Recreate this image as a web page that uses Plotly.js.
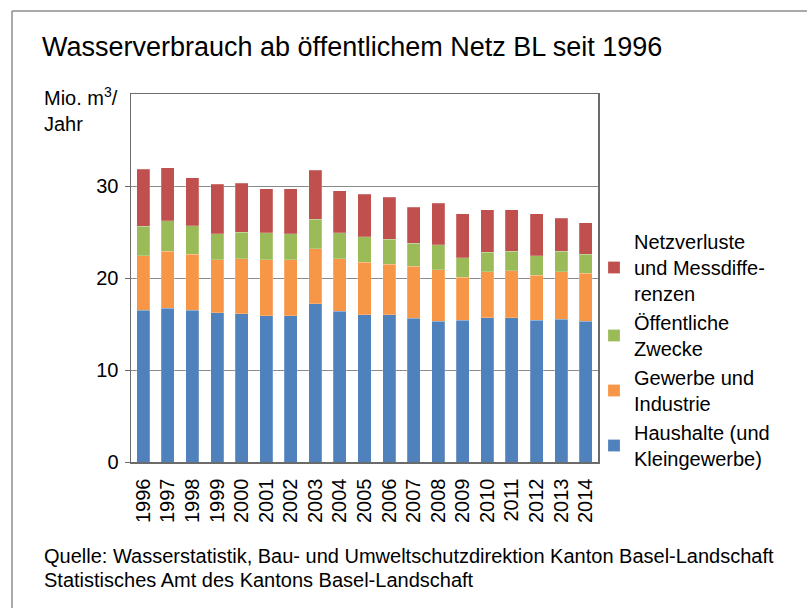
<!DOCTYPE html>
<html>
<head>
<meta charset="utf-8">
<script src="https://cdn.plot.ly/plotly-3.0.1.min.js"></script>
<style>html,body{margin:0;padding:0;background:#fff;}#chart{width:807px;height:608px;}</style>
</head>
<body>
<div id="chart"></div>
<script>
const years = ['1996','1997','1998','1999','2000','2001','2002','2003','2004','2005','2006','2007','2008','2009','2010','2011','2012','2013','2014'];
const haushalte = [16.5,16.7,16.5,16.2,16.1,15.9,15.9,17.2,16.4,16.0,16.0,15.6,15.3,15.4,15.7,15.7,15.4,15.5,15.3];
const gewerbe   = [5.9,6.2,6.1,5.8,6.0,6.1,6.1,6.0,5.7,5.7,5.5,5.7,5.6,4.7,5.0,5.1,4.9,5.2,5.2];
const oeffentlich = [3.2,3.3,3.1,2.8,2.9,2.9,2.8,3.2,2.8,2.8,2.7,2.5,2.7,2.1,2.1,2.1,2.1,2.2,2.1];
const netzverluste = [6.2,5.8,5.2,5.4,5.3,4.8,4.9,5.3,4.6,4.6,4.6,3.9,4.5,4.8,4.6,4.5,4.6,3.6,3.4];
const seriesNames = ['Haushalte (und<br>Kleingewerbe)','Gewerbe und<br>Industrie','Öffentliche<br>Zwecke','Netzverluste<br>und Messdiffe-<br>renzen'];
const seriesColors = ['#4F81BD','#F79646','#9BBB59','#C0504D'];
const yTicks = [0,10,20,30];

const allSeries = [haushalte, gewerbe, oeffentlich, netzverluste];
const traces = allSeries.map((vals, i) => ({
  type: 'bar',
  x: years,
  y: vals,
  name: seriesNames[i],
  marker: {color: seriesColors[i], line: {color: 'rgba(255,255,255,0.35)', width: 0.6}},
  hoverinfo: 'x+y+name'
}));

const L = 131, R = 598, T = 94, B = 462, W = 807, H = 608;
const pw = R - L, ph = B - T;
const px = v => (v - L) / pw;
const py = v => (B - v) / ph;
const font = 'Arial, "Liberation Sans", sans-serif';

const layout = {
  width: W, height: H,
  margin: {l: L, r: W - R, t: T, b: H - B, pad: 0},
  paper_bgcolor: '#fff', plot_bgcolor: '#fff',
  barmode: 'stack',
  bargap: 0.47,
  showlegend: true,
  font: {family: font, color: '#000', size: 20},
  title: {
    text: 'Wasserverbrauch ab öffentlichem Netz BL seit 1996',
    font: {family: font, size: 27, color: '#000'},
    xref: 'container', yref: 'container',
    x: 42 / W, xanchor: 'left',
    y: 1 - 47 / H, yanchor: 'middle'
  },
  xaxis: {
    type: 'category',
    tickangle: -90,
    tickfont: {family: font, size: 20, color: '#000'},
    showline: true, mirror: true, linecolor: '#6b6b6b', linewidth: 1.5,
    ticks: '', showgrid: false, zeroline: false,
    ticklabelstandoff: 7,
    fixedrange: true
  },
  yaxis: {
    range: [0, 40],
    tickvals: yTicks,
    ticktext: yTicks.map(String),
    tickfont: {family: font, size: 20, color: '#000'},
    showline: true, mirror: true, linecolor: '#6b6b6b', linewidth: 1.5,
    ticks: 'outside', ticklen: 5, tickcolor: '#6b6b6b', tickwidth: 1,
    showgrid: true, gridcolor: '#8a8a8a', gridwidth: 1,
    zeroline: false,
    ticklabelstandoff: 2,
    fixedrange: true
  },
  legend: {
    x: px(594), xanchor: 'left',
    y: py(222), yanchor: 'top',
    traceorder: 'reversed',
    font: {family: font, size: 20, color: '#000'},
    bgcolor: 'rgba(0,0,0,0)',
    itemwidth: 30
  },
  annotations: [
    {text: 'Mio. m<sup>3</sup>/<br>Jahr', xref: 'paper', yref: 'paper', x: px(42), y: py(82), xanchor: 'left', yanchor: 'top', align: 'left', showarrow: false, font: {family: font, size: 20, color: '#000'}},
    {text: 'Quelle: Wasserstatistik, Bau- und Umweltschutzdirektion Kanton Basel-Landschaft', xref: 'paper', yref: 'paper', x: px(42), y: py(556), xanchor: 'left', yanchor: 'middle', align: 'left', showarrow: false, font: {family: font, size: 20, color: '#000'}},
    {text: 'Statistisches Amt des Kantons Basel-Landschaft', xref: 'paper', yref: 'paper', x: px(42), y: py(580), xanchor: 'left', yanchor: 'middle', align: 'left', showarrow: false, font: {family: font, size: 20, color: '#000'}}
  ],
  shapes: [
    {type: 'line', xref: 'paper', yref: 'paper', x0: px(12), x1: px(12), y0: py(H + 5), y1: py(11), line: {color: '#8c8c8c', width: 1.5}},
    {type: 'line', xref: 'paper', yref: 'paper', x0: px(12), x1: px(W + 5), y0: py(11), y1: py(11), line: {color: '#8c8c8c', width: 1.5}}
  ]
};

Plotly.newPlot('chart', traces, layout, {displayModeBar: false, staticPlot: true});
</script>
</body>
</html>
